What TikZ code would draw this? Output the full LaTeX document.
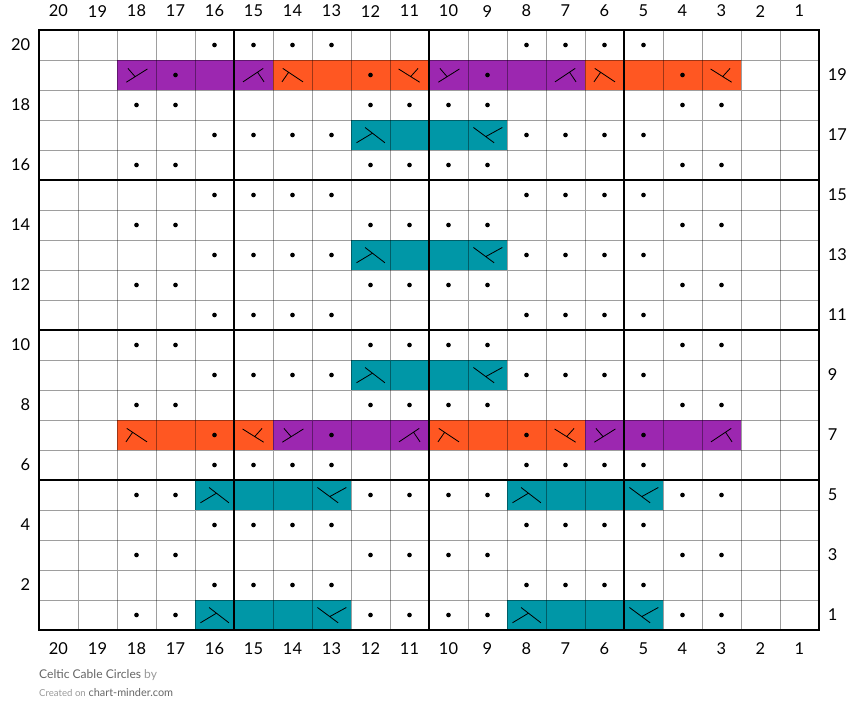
\documentclass[tikz,border=0pt]{standalone}
\usepackage{fontspec}
\setmainfont{Lato}
\definecolor{cablepurple}{HTML}{9C27B0}
\definecolor{cableorange}{HTML}{FF5722}
\definecolor{cableteal}{HTML}{0097A7}
\definecolor{footgray}{HTML}{666666}
\definecolor{footlight}{HTML}{999999}

\begin{document}
\begin{tikzpicture}[x=1.17cm, y=0.9cm, every node/.style={font=\fontsize{14}{16}\selectfont}]
        \useasboundingbox (-1, -3.1) rectangle (21, 21);

        % Cable blocks:
        \foreach \x/\y/\col in {2/19/cablepurple, 6/19/cableorange, 10/19/cablepurple, 14/19/cableorange,
                                2/7/cableorange, 6/7/cablepurple, 10/7/cableorange, 14/7/cablepurple,
                                8/17/cableteal, 8/13/cableteal, 8/9/cableteal,
                                4/5/cableteal, 12/5/cableteal, 4/1/cableteal, 12/1/cableteal}
            \fill[color=\col] (\x, \y-1) rectangle (\x+4, \y);

        % Grid:
        \foreach \i in {0, ..., 20}
            \draw[line width=0.7, color=black, opacity=0.38] (\i, 0) -- (\i, 20)
                                                             (0, \i) -- (20, \i);

        % Thick lines every five stitches:
        \foreach \i in {5, 10, 15}
            \draw[line width=2, color=black] (\i, 0) -- (\i, 20)
                                             (0, \i) -- (20, \i);
        \draw[line width=2.2, color=black] (0, 0) rectangle (20, 20);

        % Purl dots:
        \foreach \r in {20, 17, 15, 13, 11, 9, 6, 4, 2}
            \foreach \c in {16, 15, 14, 13, 8, 7, 6, 5}
                \fill[color=black] (20.5-\c, \r-0.5) circle (2pt);
        \foreach \r in {18, 16, 14, 12, 10, 8, 5, 3, 1}
            \foreach \c in {18, 17, 12, 11, 10, 9, 4, 3}
                \fill[color=black] (20.5-\c, \r-0.5) circle (2pt);
        \foreach \c/\r in {17/19, 12/19, 9/19, 4/19, 16/7, 13/7, 8/7, 5/7}
            \fill[color=black] (20.5-\c, \r-0.5) circle (2pt);

        % Cable crossings, purple:
        \foreach \c/\r in {18/19, 10/19, 14/7, 6/7}
            \draw[line width=0.7, color=black, shift={({20-\c}, {\r-1})}] (0.24, 0.26) -- (0.78, 0.70)
                                                                         (0.28, 0.72) -- (0.46, 0.45);
        \foreach \c/\r in {15/19, 7/19, 11/7, 3/7}
            \draw[line width=0.7, color=black, shift={({20-\c}, {\r-1})}] (0.23, 0.27) -- (0.75, 0.72)
                                                                         (0.60, 0.60) -- (0.77, 0.27);

        % Cable crossings, orange:
        \foreach \c/\r in {14/19, 6/19, 18/7, 10/7}
            \draw[line width=0.7, color=black, shift={({20-\c}, {\r-1})}] (0.25, 0.72) -- (0.77, 0.27)
                                                                         (0.40, 0.59) -- (0.23, 0.27);
        \foreach \c/\r in {11/19, 3/19, 15/7, 7/7}
            \draw[line width=0.7, color=black, shift={({20-\c}, {\r-1})}] (0.22, 0.70) -- (0.76, 0.26)
                                                                         (0.72, 0.72) -- (0.54, 0.46);

        % Cable crossings, teal:
        \foreach \c/\r in {12/17, 12/13, 12/9, 16/5, 8/5, 16/1, 8/1}
            \draw[line width=0.7, color=black, shift={({20-\c}, {\r-1})}] (0.36, 0.75) -- (0.87, 0.24)
                                                                         (0.14, 0.24) -- (0.55, 0.56);
        \foreach \c/\r in {9/17, 9/13, 9/9, 13/5, 5/5, 13/1, 5/1}
            \draw[line width=0.7, color=black, shift={({20-\c}, {\r-1})}] (0.14, 0.75) -- (0.67, 0.24)
                                                                         (0.46, 0.45) -- (0.88, 0.75);

        % Stitch numbers:
        \foreach \c in {1, ..., 20} {
            \node (top\c) at (20.5-\c, 20.63) {\c};
            \node (bot\c) at (20.5-\c, -0.63) {\c};
        }

        % Row numbers:
        \foreach \r in {2, 4, ..., 20}
            \node[anchor=east] (row\r) at (-0.12, \r-0.5) {\r};
        \foreach \r in {1, 3, ..., 19}
            \node[anchor=west] (row\r) at (20.12, \r-0.5) {\r};

        % Footer:
        \node[anchor=base west, inner sep=0, font=\fontsize{10.3}{12}\selectfont, text=footgray] (title) at (0, -1.63)
            {Celtic Cable Circles \textcolor{footlight}{by}};
        \node[anchor=base west, inner sep=0, font=\fontsize{9.3}{11}\selectfont, text=footgray] (credit) at (0, -2.23)
            {\textcolor{footlight}{\fontsize{8.2}{10}\selectfont Created on} chart-minder.com};
    \end{tikzpicture}
\end{document}
